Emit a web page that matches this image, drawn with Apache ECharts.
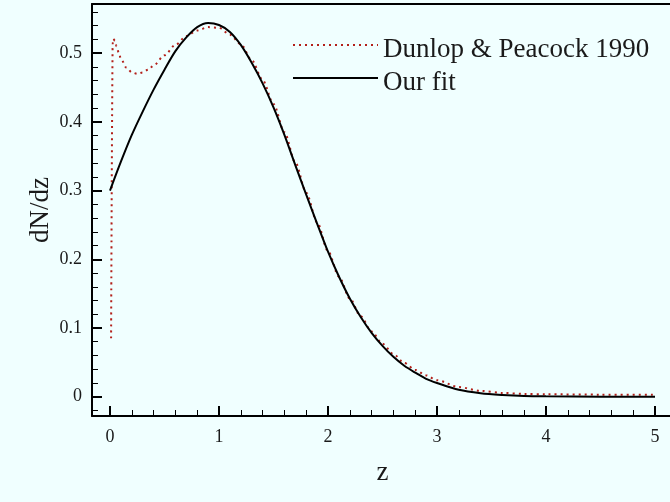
<!DOCTYPE html>
<html>
<head>
<meta charset="utf-8">
<script src="https://cdn.jsdelivr.net/npm/echarts@6/dist/echarts.min.js"></script>
<style>
html, body { margin: 0; padding: 0; background: #f0ffff; }
#chart { width: 670px; height: 502px; }
</style>
</head>
<body>
<div id="chart"></div>
<script>
// redshift distribution, values
var zFit = [0, 0.1, 0.2, 0.3, 0.4, 0.5, 0.6, 0.7, 0.8, 0.9, 1.0, 1.1, 1.2, 1.3, 1.4, 1.5, 1.6, 1.7, 1.8, 1.9,
    2.0, 2.1, 2.2, 2.3, 2.4, 2.5, 2.6, 2.7, 2.8, 2.9, 3.0, 3.2, 3.4, 3.6, 3.8, 4.0, 4.5, 5.0]
var fitVals = [0.300, 0.342, 0.381, 0.415, 0.447, 0.476, 0.503, 0.523, 0.538, 0.544, 0.541, 0.531, 0.512, 0.486, 0.456, 0.421, 0.381, 0.337, 0.294, 0.252,
    0.211, 0.175, 0.143, 0.116, 0.093, 0.074, 0.058, 0.045, 0.035, 0.026, 0.020, 0.010, 0.005, 0.0025, 0.001, 0.0005, 0.0001, 0]

var zDP = [0.01, 0.025, 0.03, 0.045, 0.06, 0.08, 0.1, 0.15, 0.2, 0.25, 0.3, 0.35, 0.4, 0.5, 0.6, 0.7, 0.8, 0.9, 1.0, 1.1,
    1.2, 1.3, 1.4, 1.5, 1.6, 1.7, 1.8, 1.9, 2.0, 2.1, 2.2, 2.3, 2.4, 2.5, 2.6, 2.7, 2.8, 2.9, 3.0, 3.2, 3.4, 3.6, 3.8, 4.0, 4.5, 5.0]
var dpVals = [0.085, 0.515, 0.521, 0.518, 0.510, 0.501, 0.492, 0.479, 0.472, 0.470, 0.472, 0.476, 0.482, 0.497, 0.512, 0.525, 0.533, 0.538, 0.537, 0.527,
    0.513, 0.490, 0.461, 0.426, 0.385, 0.341, 0.297, 0.254, 0.212, 0.175, 0.143, 0.117, 0.095, 0.077, 0.062, 0.049, 0.039, 0.031, 0.024, 0.014, 0.0085, 0.0055, 0.004, 0.0035, 0.003, 0.003]

var seriesNames = ["Dunlop & Peacock 1990", "Our fit"]

var FONT = "Liberation Serif"
var INK = "#1a1a1a"

function pairs(xs, ys) {
    return xs.map((x, i) => [x, ys[i]])
}

var chart = echarts.init(document.getElementById("chart"))
chart.setOption({
    backgroundColor: "#f0ffff",
    animation: false,
    grid: [
        { left: 110, right: 15, top: 4, bottom: 86 },      // data + x ticks
        { left: 92, right: 0, top: 4, bottom: 86 },        // frame
        { left: 92, right: 0, top: 53.2, bottom: 105.3 },  // y major ticks 0..0.5
        { left: 92, right: 0, top: 12, bottom: 91.56 }     // y minor ticks -0.02..0.56
    ],
    legend: {
        orient: "vertical",
        left: 287,
        top: 31,
        itemWidth: 85,
        itemHeight: 14,
        itemGap: 6,
        data: seriesNames,
        itemStyle: { opacity: 0 },
        formatter: "{t|{name}}",
        textStyle: {
            fontFamily: FONT, fontSize: 27, color: INK,
            rich: { t: { fontFamily: FONT, fontSize: 27, color: INK, padding: [9, 0, 0, 0] } }
        }
    },
    xAxis: [{
        gridIndex: 0, type: "value", min: 0, max: 5, interval: 1,
        axisLine: { show: false, onZero: false },
        axisTick: { inside: true, length: 10, lineStyle: { color: "#000", width: 2 } },
        axisLabel: { fontFamily: FONT, fontSize: 18, color: INK, margin: 12 },
        splitLine: { show: false },
        name: "z", nameLocation: "middle", nameGap: 43,
        nameTextStyle: { fontFamily: FONT, fontSize: 27, color: INK }
    }, {
        gridIndex: 0, type: "value", min: 0, max: 5, interval: 0.2, position: "bottom",
        axisLine: { show: false, onZero: false },
        axisTick: { inside: true, length: 6, lineStyle: { color: "#000", width: 1 } },
        axisLabel: { show: false },
        splitLine: { show: false }
    }, {
        gridIndex: 1, type: "value", min: 0, max: 1, position: "bottom",
        axisLine: { onZero: false, lineStyle: { color: "#000", width: 2 } },
        axisTick: { show: false }, axisLabel: { show: false }, splitLine: { show: false }
    }, {
        gridIndex: 1, type: "value", min: 0, max: 1, position: "top",
        axisLine: { onZero: false, lineStyle: { color: "#000", width: 2 } },
        axisTick: { show: false }, axisLabel: { show: false }, splitLine: { show: false }
    }, {
        gridIndex: 2, type: "value", min: 0, max: 1, show: false
    }, {
        gridIndex: 3, type: "value", min: 0, max: 1, show: false
    }],
    yAxis: [{
        gridIndex: 0, type: "value", min: -0.0281, max: 0.5716, show: false, splitLine: { show: false }
    }, {
        gridIndex: 1, type: "value", min: 0, max: 1, position: "left",
        axisLine: { onZero: false, lineStyle: { color: "#000", width: 2 } },
        axisTick: { show: false }, axisLabel: { show: false }, splitLine: { show: false },
        name: "dN/dz", nameLocation: "middle", nameGap: 38,
        nameTextStyle: { fontFamily: FONT, fontSize: 27, color: INK }
    }, {
        gridIndex: 2, type: "value", min: 0, max: 0.5, interval: 0.1,
        axisLine: { show: false, onZero: false },
        axisTick: { inside: true, length: 10, lineStyle: { color: "#000", width: 2 } },
        axisLabel: { fontFamily: FONT, fontSize: 18, color: INK, margin: 10 },
        splitLine: { show: false }
    }, {
        gridIndex: 3, type: "value", min: -0.02, max: 0.56, interval: 0.02,
        axisLine: { show: false, onZero: false },
        axisTick: { inside: true, length: 6, lineStyle: { color: "#000", width: 1 } },
        axisLabel: { show: false },
        splitLine: { show: false }
    }],
    series: [{
        name: seriesNames[0],
        type: "line",
        xAxisIndex: 0, yAxisIndex: 0,
        data: pairs(zDP, dpVals),
        symbol: "none",
        smooth: 0.3,
        smoothMonotone: "x",
        itemStyle: { color: "#b3201a" },
        lineStyle: { color: "#b3201a", width: 2, type: [2, 4] },
        z: 2
    }, {
        name: seriesNames[1],
        type: "line",
        xAxisIndex: 0, yAxisIndex: 0,
        data: pairs(zFit, fitVals),
        symbol: "none",
        smooth: 0.3,
        itemStyle: { color: "#000" },
        lineStyle: { color: "#000", width: 2 },
        z: 3
    }]
})
</script>
</body>
</html>
